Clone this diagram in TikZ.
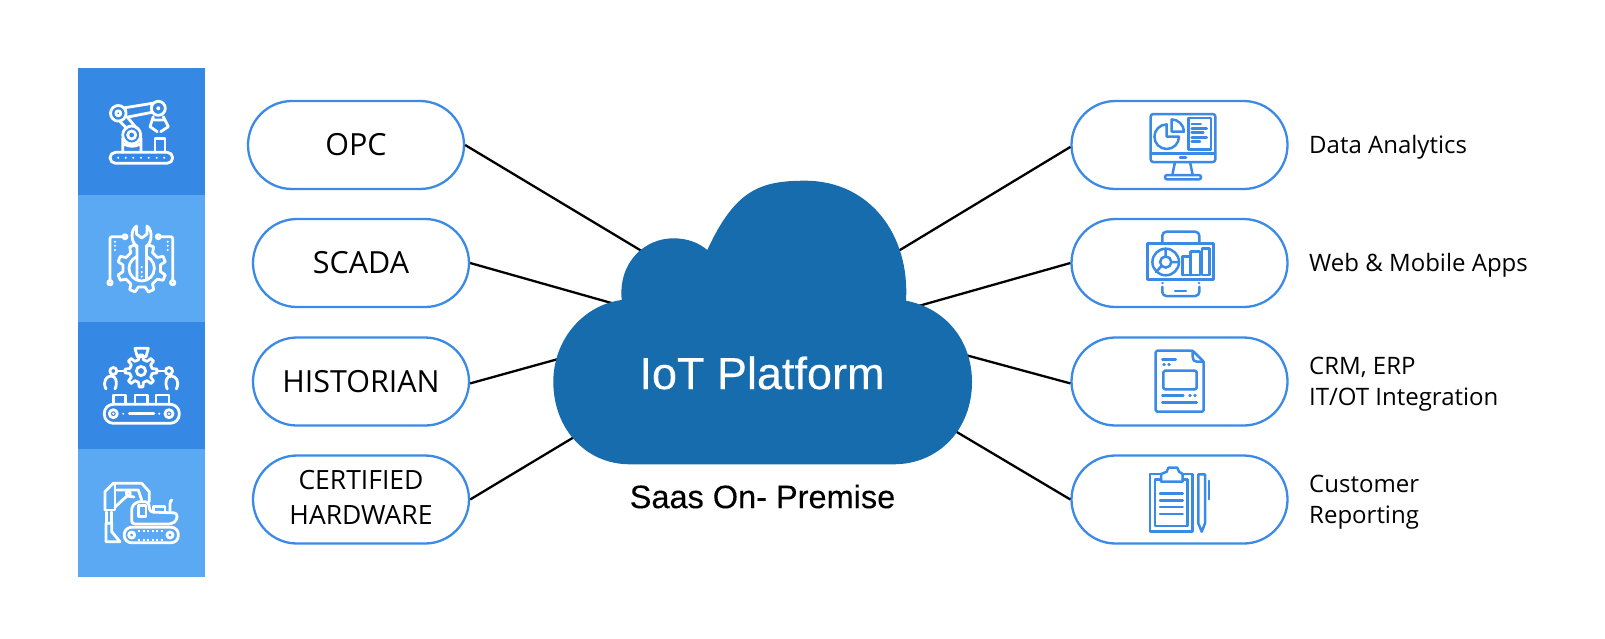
\documentclass[tikz,border=0pt]{standalone}
\usepackage{fontspec}
\setmainfont{Open Sans}
\newfontfamily\rbt[FakeBold=0.35]{Liberation Sans}
\newfontfamily\rbs[FakeBold=0.15]{Liberation Sans}
\usetikzlibrary{shapes.misc}
\definecolor{tiled}{HTML}{3688E5}
\definecolor{tilel}{HTML}{5AA9F2}
\definecolor{pillc}{HTML}{3A8AE6}
\definecolor{cloudc}{HTML}{176CAE}
\tikzset{
 tile/.style={draw=none,minimum width=127pt,minimum height=127.5pt,inner sep=0pt,outer sep=0pt},
 pill/.style={rounded rectangle,draw=pillc,line width=2.3pt,minimum width=216pt,minimum height=88pt,inner sep=0pt,align=center,text=black},
 bigl/.style={font=\fontsize{30.5}{35}\selectfont},
 smal/.style={font=\fontsize{26.5}{35}\selectfont,text depth=5pt},
 rlab/.style={anchor=west,align=left,inner sep=0pt,font=\fontsize{24}{30.5}\selectfont},
 conn/.style={draw=black,line width=2.3pt},
 iw/.style={draw=white,line width=2.8pt,line join=round,line cap=round},
 ib/.style={draw=pillc,line width=2.5pt,line join=round,line cap=round},
}
\newcommand{\mygear}[6]{% style,center,Rout,Rin,n,offset
 \draw[#1,shift={(#2)}] ({#6-180/#5*0.55}:#4pt)
 \foreach \k in {1,...,#5}{
   -- ({(\k-1)*360/#5+#6-180/#5*0.3}:#3pt)
   -- ({(\k-1)*360/#5+#6+180/#5*0.3}:#3pt)
   -- ({(\k-1)*360/#5+#6+180/#5*0.55}:#4pt)
   -- ({\k*360/#5+#6-180/#5*0.55}:#4pt)
 } -- cycle;}
\begin{document}
\begin{tikzpicture}[x=1pt,y=-1pt]
\useasboundingbox (0,0) rectangle (1605,638);
% tiles
\node[tile,fill=tiled] (t1) at (141.5,131.5) {};
\node[tile,fill=tilel] (t2) at (141.5,259) {};
\node[tile,fill=tiled] (t3) at (141.5,386) {};
\node[tile,fill=tilel] (t4) at (141.5,513) {};
% left pills
\node[pill,bigl] (opc) at (356,145) {OPC};
\node[pill,bigl] (sca) at (361,263) {SCADA};
\node[pill,bigl] (his) at (361,381.5) {HISTORIAN};
\node[pill,smal] (cer) at (361,499.5) {CERTIFIED\\HARDWARE};
% right pills
\node[pill] (r1) at (1179.5,145) {};
\node[pill] (r2) at (1179.5,263) {};
\node[pill] (r3) at (1179.5,381.5) {};
\node[pill] (r4) at (1179.5,499.5) {};
% cloud ports
\coordinate (c1) at (645,253);
\coordinate (c2) at (615,304);
\coordinate (c3) at (560,358.5);
\coordinate (c4) at (580,433.5);
\coordinate (c5) at (895,253);
\coordinate (c6) at (915,307);
\coordinate (c7) at (960,353.5);
\coordinate (c8) at (950,428);
% connectors
\draw[conn] (opc.-0.6) -- (c1);
\draw[conn] (sca.-0.1) -- (c2);
\draw[conn] (his.-1.3) -- (c3);
\draw[conn] (cer.-0.1) -- (c4);
\draw[conn] (r1.181.6) -- (c5);
\draw[conn] (r2.180) -- (c6);
\draw[conn] (r3.181.3) -- (c7);
\draw[conn] (r4.180) -- (c8);
% cloud
\fill[cloudc] (630,464.3) .. controls (585,464.3) and (553.3,428) .. (553.3,381.7)
 .. controls (553.3,340) and (583,305) .. (621.7,300)
 .. controls (618,262) and (645,238.3) .. (673.3,238.3)
 .. controls (688,238.3) and (699,243) .. (707.3,250)
 .. controls (735,190) and (760,180.7) .. (805,180.7)
 .. controls (870,180.7) and (910,235) .. (906,300.7)
 .. controls (945,308) and (972,340) .. (972,382)
 .. controls (972,428) and (940,464.3) .. (893.3,464.3) -- cycle;
\node[text=white,font=\rbt\fontsize{45}{50}\selectfont,inner sep=0pt] (iot) at (762,373) {IoT Platform};
\node[text=black,font=\rbs\fontsize{32.5}{36}\selectfont,inner sep=0pt] (saas) at (762.5,496.5) {Saas On- Premise};
% right labels
\node[rlab] (l1) at (1309,147) {Data Analytics};
\node[rlab] (l2) at (1309,265.5) {Web \& Mobile Apps};
\node[rlab] (l3) at (1309,384) {CRM, ERP\\IT/OT Integration};
\node[rlab] (l4) at (1309,502) {Customer\\Reporting};
% ---- icon 1: robot arm
\draw[iw,rounded corners=5.5pt] (110,152.3) rectangle (172.7,163.3);
\foreach \x in {118.3,125.7,133.3,141,148.7,156.7,164.3} \fill[white] (\x,157.7) circle (1.1pt);
\draw[iw] (118.3,113.3) circle (7.8pt);
\draw[iw] (118.3,113.3) circle (2.5pt);
\draw[iw] (158.3,108.3) circle (7pt);
\fill[white] (158.3,108.3) circle (2pt);
\draw[iw] (131.7,135) circle (9pt);
\draw[iw] (131.7,135) circle (4pt);
\draw[iw] (125,107.7) -- (152.5,103.3) (126.5,117.3) -- (152,112.3);
\draw[iw] (120,121.7) -- (126.7,128.3) (128.3,118.3) -- (136.7,128.3);
\draw[iw] (122.7,138) -- (122.7,152) (141,138) -- (141,152) (124,144) .. controls (128,147) and (136,147) .. (140,144);
\draw[iw] (153.3,116.7) -- (150,126.7) -- (157.3,131.7) (163.3,116.7) -- (168.3,126.7) -- (160.7,131.7) (154,120) -- (163,120);
\draw[iw] (155,152.3) -- (155,138.3) -- (165,138.3) -- (165,152.3);
% ---- icon 2: wrench + gear
\mygear{iw}{141.7,268.3}{24.5}{19}{8}{22.5}
\fill[tilel] (141.7,268.3) circle (13pt);
\draw[iw] (141.7,268.3) circle (12.7pt);
\fill[tilel] (136.5,244) rectangle (147,278);
\draw[iw] (137,279) -- (137,246) .. controls (131,243) and (130,230) .. (136.5,226) -- (136.5,234) -- (141.7,238) -- (147,234) -- (147,226) .. controls (153,230) and (152,243) .. (146.5,246) -- (146.5,279);
\foreach \y in {267,272,276.5} \fill[white] (141.7,\y) circle (1.2pt);
\draw[iw,rounded corners=2pt] (123,236.7) -- (110,236.7) -- (110,280);
\draw[iw,rounded corners=2pt] (160.3,236.7) -- (172.7,236.7) -- (172.7,280);
\draw[iw] (125,236.7) circle (2pt) (158.3,236.7) circle (2pt) (110,282.7) circle (2.2pt) (172.7,282.7) circle (2.2pt);
\foreach \y in {241.7,245.7,250}{\fill[white] (115,\y) circle (1.1pt);\fill[white] (167.7,\y) circle (1.1pt);}
% ---- icon 3: factory
\draw[iw,rounded corners=9pt] (104.3,404.3) rectangle (179.3,423.3);
\draw[iw] (113.3,413.7) circle (4pt) (169,413.7) circle (4pt);
\fill[white] (113.3,413.7) circle (1.3pt) (169,413.7) circle (1.3pt) (123.3,413.7) circle (1.1pt) (159.3,413.7) circle (1.1pt);
\draw[iw] (129.3,413.7) -- (154,413.7);
\draw[iw] (113.3,404.3) -- (113.3,395) -- (125.7,395) -- (125.7,404.3);
\draw[iw] (135,404.3) -- (135,395) -- (147.3,395) -- (147.3,404.3);
\draw[iw] (156,404.3) -- (156,395) -- (169,395) -- (169,404.3);
\mygear{iw}{141,371}{16}{11.5}{8}{0}
\draw[iw] (141,371) circle (4.6pt);
\draw[iw] (135,348.3) -- (148.3,348.3) -- (146,356.7) -- (137.3,356.7) -- cycle;
\draw[iw] (125,371) -- (116.8,371) (157,371) -- (165.5,371);
\draw[iw] (113.3,371) circle (3.5pt) (169,371) circle (3.5pt);
\draw[iw] (106,389) .. controls (102,381) and (107,376) .. (111,376) .. controls (116,376) and (118,382) .. (115,389);
\draw[iw] (176.3,389) .. controls (180.3,381) and (175.3,376) .. (171.3,376) .. controls (166.3,376) and (164.3,382) .. (167.3,389);
% ---- icon 4: excavator
\draw[iw,rounded corners=7pt] (124.3,527.3) rectangle (178.3,542.7);
\draw[iw] (131.7,535) circle (3pt) (170,535) circle (3pt);
\draw[white,line width=2pt,dash pattern=on 2pt off 2.5pt] (138,530.7) -- (163,530.7) (138,539.5) -- (163,539.5);
\draw[iw,rounded corners=3pt] (131.7,524) -- (131.7,506.7) -- (136.7,501.7) -- (148.3,501.7) -- (150,512) -- (177,513) -- (177,520) -- (171.7,524) -- cycle;
\draw[iw] (138.3,516.7) -- (138.3,505.7) -- (146,505.7) -- (146,516.7) -- cycle;
\draw[iw] (153.3,512) -- (153.3,506.7) -- (165,506.7) -- (165,512);
\draw[iw] (170,512) -- (170,504) .. controls (170,501) and (171,500) .. (172,500);
\draw[iw] (105,510) -- (105,491.7) -- (113.3,483.3) -- (141.7,483.3) -- (149.3,491.7) -- (149.3,501.7);
\draw[iw] (116.7,490) -- (138.3,490) -- (141.7,500);
\draw[iw] (115,485) -- (115,510) -- (105,510);
\draw[iw] (115,507) -- (127,496) -- (134,497);
\draw[iw] (128.3,493.3) circle (2pt);
\draw[iw] (106.7,512) -- (106.7,523) (111.7,512) -- (111.7,523);
\draw[iw] (106,523.3) -- (106,541.7) -- (120,541.7) -- (111.7,531.7) -- (111.7,523.3) -- cycle;
% ---- right icon 1: monitor
\draw[ib,rounded corners=2.5pt] (1150.7,114) rectangle (1215.3,162);
\draw[ib] (1150.7,153.3) -- (1215.3,153.3) (1180,157.7) -- (1186,157.7);
\draw[ib] (1175,162) -- (1172.3,175) (1190,162) -- (1192.7,175);
\draw[ib,rounded corners=2pt] (1165,175) rectangle (1201,179.3);
\draw[ib] (1166.7,124.4) arc[start angle=90,end angle=360,radius=12.3pt,y radius=12.3pt] -- (1166.7,136.7) -- cycle;
\draw[ib] (1171.7,119.4) -- (1171.7,131.7) -- (1184,131.7) .. controls (1184,125) and (1178,119.4) .. (1171.7,119.4);
\draw[ib] (1188.3,118) rectangle (1211,149.3);
\draw[ib] (1191.7,124) -- (1200.7,124) (1191.7,128.3) -- (1206.7,128.3) (1191.7,132.7) -- (1203.3,132.7) (1191.7,137.3) -- (1206.7,137.3) (1191.7,141.7) -- (1200,141.7);
% ---- right icon 2: web & mobile
\draw[ib] (1147.7,243.3) rectangle (1213.7,279.3);
\draw[ib,rounded corners=4pt] (1162.3,243.3) -- (1162.3,231.7) -- (1199.3,231.7) -- (1199.3,243.3);
\draw[ib,rounded corners=4pt] (1162.3,286.7) -- (1162.3,296) -- (1199.3,296) -- (1199.3,286.7);
\draw[ib] (1162.3,283) -- (1162.8,283) (1199.3,283) -- (1198.8,283) (1175,291) -- (1186,291);
\draw[ib] (1165.7,262) circle (13.3pt) (1165.7,262) circle (5.6pt);
\draw[ib] (1165.7,256.4) -- (1165.7,248.7) (1171.3,262) -- (1179,262) (1161.5,266) -- (1156,272);
\draw[ib] (1182.7,275) -- (1182.7,256.7) -- (1190.7,256.7) -- (1190.7,275) (1190.7,251.7) -- (1200,251.7) -- (1200,275) (1190.7,251.7) -- (1190.7,256.7) (1202,248.3) -- (1209.3,248.3) -- (1209.3,275) -- (1202,275) -- cycle (1182.7,275) -- (1200,275);
% ---- right icon 3: document
\draw[ib,rounded corners=1.5pt] (1155.7,350.7) -- (1192.7,350.7) -- (1203.7,361.7) -- (1203.7,411.7) -- (1155.7,411.7) -- cycle;
\draw[ib] (1192.7,350.7) -- (1192.7,357) .. controls (1192.7,360) and (1194,361.7) .. (1197,361.7) -- (1203.7,361.7);
\draw[ib] (1162.3,359.3) -- (1175.7,359.3) (1163.5,364.3) -- (1164.5,364.3) (1168.5,364.3) -- (1169.5,364.3);
\draw[ib,rounded corners=1.5pt] (1163.3,370.7) rectangle (1196.7,389.3);
\draw[ib] (1162.3,395.7) -- (1183.3,395.7) (1189.5,395.7) -- (1190.5,395.7) (1194.5,395.7) -- (1195.5,395.7) (1162.3,402.3) -- (1196.7,402.3);
% ---- right icon 4: clipboard
\draw[ib] (1161,474) -- (1150,474) -- (1150,531.7) -- (1192.7,531.7) -- (1192.7,474) -- (1182.7,474);
\draw[ib] (1161,479.3) -- (1155,479.3) -- (1155,526) -- (1187.7,526) -- (1187.7,479.3) -- (1182.7,479.3);
\draw[ib] (1161,481.7) -- (1161,474) -- (1166.7,471.7) -- (1168.3,467.7) -- (1177.3,467.7) -- (1179,471.7) -- (1182.7,474) -- (1182.7,481.7) -- cycle;
\foreach \y in {493.3,500.3,507,514} \draw[ib] (1160,\y) -- (1182.7,\y);
\draw[ib] (1198.3,474.3) -- (1205,474.3) -- (1205,523.3) -- (1201.7,531.7) -- (1198.3,523.3) -- cycle;
\draw[ib] (1209,480.7) -- (1209,499.3);
\end{tikzpicture}
\end{document}
